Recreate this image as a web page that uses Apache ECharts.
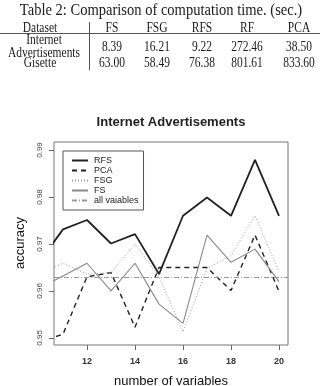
<!DOCTYPE html>
<html><head><meta charset="utf-8">
<script src="https://cdn.jsdelivr.net/npm/echarts@6/dist/echarts.min.js"></script>
<style>html,body{margin:0;padding:0;background:#fff}#c{width:320px;height:386px}</style>
</head><body><div id="c"></div>
<script>
// ---- table data ----
const tableTitle = 'Table 2: Comparison of computation time. (sec.)';
const tableHeader = ['Dataset', 'FS', 'FSG', 'RFS', 'RF', 'PCA'];
const rowInternet = ['Internet\nAdvertisements', '8.39', '16.21', '9.22', '272.46', '38.50'];
const rowGisette = ['Gisette', '63.00', '58.49', '76.38', '801.61', '833.60'];

// ---- chart data ----
const chartTitle = 'Internet Advertisements';
const xName = 'number of variables';
const yName = 'accuracy';
const numVars = [10, 11, 12, 13, 14, 15, 16, 17, 18, 19, 20];
const rfs = [0.9661, 0.9731, 0.9751, 0.9701, 0.9721, 0.9636, 0.9760, 0.9799, 0.9760, 0.9879, 0.9760];
const pca = [0.9491, 0.9508, 0.9630, 0.9639, 0.9523, 0.9650, 0.9650, 0.9650, 0.9601, 0.9719, 0.9599];
const fsg = [0.9636, 0.9659, 0.9636, 0.9639, 0.9700, 0.9630, 0.9513, 0.9648, 0.9675, 0.9760, 0.9641];
const fs  = [0.9605, 0.9632, 0.9659, 0.9600, 0.9659, 0.9572, 0.9531, 0.9719, 0.9661, 0.9689, 0.9620];
const allVariables = 0.963;
const xTicks = [12, 14, 16, 18, 20];
const yTicks = [0.95, 0.96, 0.97, 0.98, 0.99];
const seriesNames = ['RFS', 'PCA', 'FSG', 'FS', 'all vaiables'];

const pairs = arr => numVars.map((n, i) => [n, arr[i]]);

// ---- table graphics ----
const colX = [40, 112, 157, 202, 247, 299];
const serif = '"Liberation Serif", "DejaVu Serif", serif';
const sans = '"Liberation Sans", Arial, sans-serif';
const g = [];
function t(x, y, text, size, sx) {
  g.push({
    type: 'text', x: x, y: y, scaleX: sx, silent: true,
    style: { text: text, fill: '#1a1a1a', font: size + 'px ' + serif, textAlign: 'center', textVerticalAlign: 'middle', lineHeight: 13 }
  });
}
t(161, 11, tableTitle, 17, 0.855);
tableHeader.forEach((h, i) => t(colX[i], 28, h, 14, 0.82));
rowInternet.forEach((h, i) => t(i === 0 ? 44 : colX[i], 47, h, 14, 0.82));
rowGisette.forEach((h, i) => t(colX[i], 63, h, 14, 0.82));
g.push({ type: 'line', silent: true, shape: { x1: 0, y1: 33.5, x2: 320, y2: 33.5 }, style: { stroke: '#555', lineWidth: 1 } });
g.push({ type: 'line', silent: true, shape: { x1: 89.5, y1: 22, x2: 89.5, y2: 70 }, style: { stroke: '#555', lineWidth: 1 } });
g.push({ type: 'text', x: 171, y: 122, silent: true,
  style: { text: chartTitle, fill: '#222', font: 'bold 13px ' + sans, textAlign: 'center', textVerticalAlign: 'middle' } });
g.push({ type: 'text', x: 171, y: 381, silent: true,
  style: { text: xName, fill: '#111', font: '13px ' + sans, textAlign: 'center', textVerticalAlign: 'middle' } });
g.push({ type: 'text', x: 20, y: 243, rotation: Math.PI / 2, silent: true,
  style: { text: yName, fill: '#111', font: '13px ' + sans, textAlign: 'center', textVerticalAlign: 'middle' } });

const chart = echarts.init(document.getElementById('c'), null, { renderer: 'canvas' });
chart.setOption({
  animation: false,
  backgroundColor: '#fff',
  graphic: g,
  grid: { left: 54, right: 32, top: 142, bottom: 41, show: true, borderColor: '#777', borderWidth: 1, containLabel: false },
  legend: {
    data: seriesNames, orient: 'vertical', left: 63, top: 151,
    padding: [5, 5, 5, 8], itemGap: 1, itemWidth: 16, itemHeight: 9,
    borderColor: '#555', borderWidth: 1, backgroundColor: '#fff',
    itemStyle: { color: 'rgba(0,0,0,0)', borderColor: 'rgba(0,0,0,0)', borderWidth: 0 },
    textStyle: { fontSize: 9, lineHeight: 9, fontFamily: sans, color: '#222', padding: [0, 0, 0, 1] },
    selectedMode: false
  },
  xAxis: {
    type: 'value', min: 10.625, max: 20.375,
    axisLine: { show: false },
    axisTick: { show: true, length: 5, lineStyle: { color: '#666' }, customValues: xTicks },
    axisLabel: { customValues: xTicks, fontSize: 9, fontWeight: 'bold', fontFamily: sans, color: '#333', margin: 12 },
    splitLine: { show: false }
  },
  yAxis: {
    type: 'value', min: 0.9485, max: 0.9917,
    axisLine: { show: false },
    axisTick: { show: true, length: 5, lineStyle: { color: '#666' }, customValues: yTicks },
    axisLabel: { customValues: yTicks, rotate: 90, fontSize: 8, fontFamily: sans, color: '#444', margin: 10,
      formatter: v => v.toFixed(2) },
    splitLine: { show: false }
  },
  series: [
    { name: 'RFS', type: 'line', data: pairs(rfs), symbol: 'none', color: '#222', lineStyle: { color: '#222', width: 1.8, type: 'solid' } },
    { name: 'PCA', type: 'line', data: pairs(pca), symbol: 'none', color: '#222', lineStyle: { color: '#222', width: 1.4, type: [5, 4] } },
    { name: 'FSG', type: 'line', data: pairs(fsg), symbol: 'none', color: '#999', lineStyle: { color: '#999', width: 1, type: [1, 2] } },
    { name: 'FS', type: 'line', data: pairs(fs), symbol: 'none', color: '#888', lineStyle: { color: '#888', width: 1.1, type: 'solid' } },
    { name: 'all vaiables', type: 'line', data: [], symbol: 'none', color: '#999', lineStyle: { color: '#999', width: 1, type: [5, 2, 1, 2] },
      markLine: { silent: true, symbol: 'none', precision: 4, label: { show: false },
        lineStyle: { color: '#999', width: 1, type: [5, 2, 1, 2] }, data: [{ yAxis: allVariables }] } }
  ]
});
</script>
</body></html>
